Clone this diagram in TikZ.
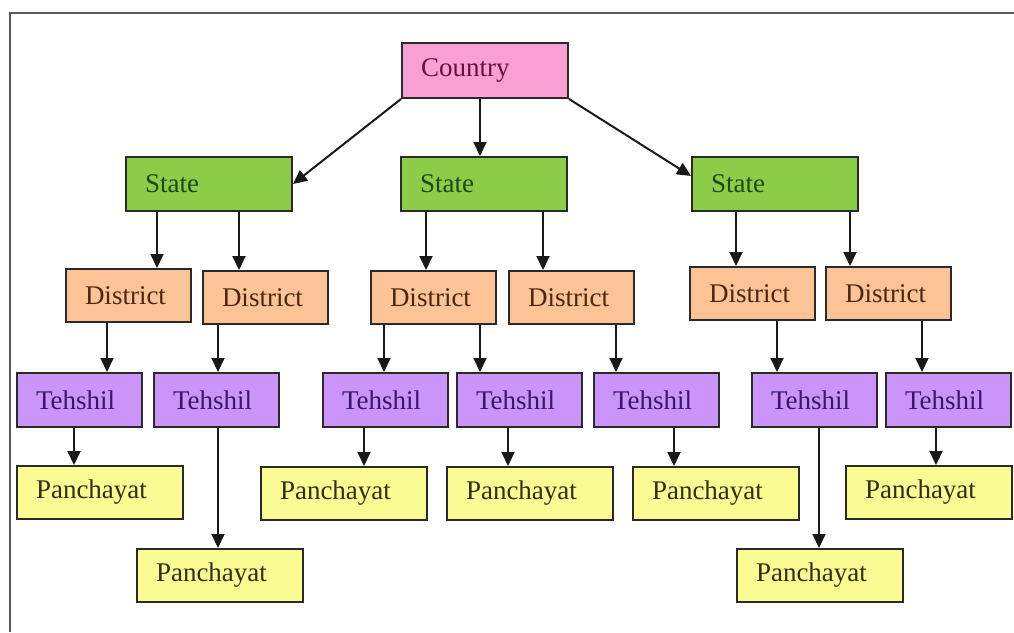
\documentclass[tikz,border=0pt]{standalone}
\usepackage{fontspec}
\setmainfont{Liberation Serif}
\usetikzlibrary{arrows.meta}
\definecolor{cpink}{HTML}{FA9FD2}
\definecolor{cgreen}{HTML}{8CCC48}
\definecolor{cpeach}{HTML}{FCC396}
\definecolor{cpurple}{HTML}{CA94FA}
\definecolor{cyellow}{HTML}{FBFB94}
\definecolor{tpink}{HTML}{6A1038}
\definecolor{tgreen}{HTML}{1E4A10}
\definecolor{tpeach}{HTML}{4A2810}
\definecolor{tpurple}{HTML}{3A1666}
\definecolor{tyellow}{HTML}{303010}
\definecolor{edgec}{HTML}{2A2A2A}
\begin{document}
\begin{tikzpicture}[x=1pt,y=-1pt,
  box/.style={draw=edgec,line width=2pt,rectangle,anchor=north west,
    inner xsep=19pt,inner ysep=0pt,align=left,
    font=\fontsize{27}{30}\selectfont},
  wide/.style={box,text width=128pt,minimum height=54pt},
  narrow/.style={box,text width=87pt,minimum height=54pt},
  countrybox/.style={wide,fill=cpink,text=tpink,minimum height=55pt},
  statebox/.style={wide,fill=cgreen,text=tgreen},
  districtbox/.style={narrow,fill=cpeach,text=tpeach,minimum height=53pt},
  tehshilbox/.style={narrow,fill=cpurple,text=tpurple},
  panchbox/.style={wide,fill=cyellow,text=tyellow,minimum height=53pt},
  arr/.style={line width=2pt,draw=black!90,-{Triangle[length=14pt,width=13pt]}}]
\useasboundingbox (0,0) rectangle (1014,632);
% frame
\draw[line width=2.2pt,draw=black!65] (10,632) -- (10,13) -- (1014,13);
% nodes
\node[countrybox] (C) at (401,42) {Country};
\node[statebox] (S1) at (125,156) {State};
\node[statebox] (S2) at (400,156) {State};
\node[statebox] (S3) at (691,156) {State};
\node[districtbox] (D1) at (65,268) {District};
\node[districtbox] (D2) at (202,270) {District};
\node[districtbox] (D3) at (370,270) {District};
\node[districtbox] (D4) at (508,270) {District};
\node[districtbox] (D5) at (689,266) {District};
\node[districtbox] (D6) at (825,266) {District};
\node[tehshilbox] (T1) at (16,372) {Tehshil};
\node[tehshilbox] (T2) at (153,372) {Tehshil};
\node[tehshilbox] (T3) at (322,372) {Tehshil};
\node[tehshilbox] (T4) at (456,372) {Tehshil};
\node[tehshilbox] (T5) at (593,372) {Tehshil};
\node[tehshilbox] (T6) at (751,372) {Tehshil};
\node[tehshilbox] (T7) at (885,372) {Tehshil};
\node[panchbox] (P1) at (16,465) {Panchayat};
\node[panchbox] (P2) at (136,548) {Panchayat};
\node[panchbox] (P3) at (260,466) {Panchayat};
\node[panchbox] (P4) at (446,466) {Panchayat};
\node[panchbox] (P5) at (632,466) {Panchayat};
\node[panchbox] (P6) at (845,465) {Panchayat};
\node[panchbox] (P7) at (736,548) {Panchayat};
% connectors
\draw[arr] (C.south west) -- (S1.east);
\draw[arr] (C.south -| 480,0) -- (S2.north -| 480,0);
\draw[arr] (C.south east) -- ([yshift=8pt]S3.west);
\draw[arr] (S1.south -| 157,0) -- (D1.north -| 157,0);
\draw[arr] (S1.south -| 239,0) -- (D2.north -| 239,0);
\draw[arr] (S2.south -| 426,0) -- (D3.north -| 426,0);
\draw[arr] (S2.south -| 543,0) -- (D4.north -| 543,0);
\draw[arr] (S3.south -| 736,0) -- (D5.north -| 736,0);
\draw[arr] (S3.south -| 850,0) -- (D6.north -| 850,0);
\draw[arr] (D1.south -| 107,0) -- (T1.north -| 107,0);
\draw[arr] (D2.south -| 218,0) -- (T2.north -| 218,0);
\draw[arr] (D3.south -| 384,0) -- (T3.north -| 384,0);
\draw[arr] (D3.south -| 480,0) -- (T4.north -| 480,0);
\draw[arr] (D4.south -| 616,0) -- (T5.north -| 616,0);
\draw[arr] (D5.south -| 777,0) -- (T6.north -| 777,0);
\draw[arr] (D6.south -| 922,0) -- (T7.north -| 922,0);
\draw[arr] (T1.south -| 74,0) -- (P1.north -| 74,0);
\draw[arr] (T2.south -| 218,0) -- (P2.north -| 218,0);
\draw[arr] (T3.south -| 364,0) -- (P3.north -| 364,0);
\draw[arr] (T4.south -| 508,0) -- (P4.north -| 508,0);
\draw[arr] (T5.south -| 674,0) -- (P5.north -| 674,0);
\draw[arr] (T6.south -| 819,0) -- (P7.north -| 819,0);
\draw[arr] (T7.south -| 936,0) -- (P6.north -| 936,0);
\end{tikzpicture}
\end{document}
